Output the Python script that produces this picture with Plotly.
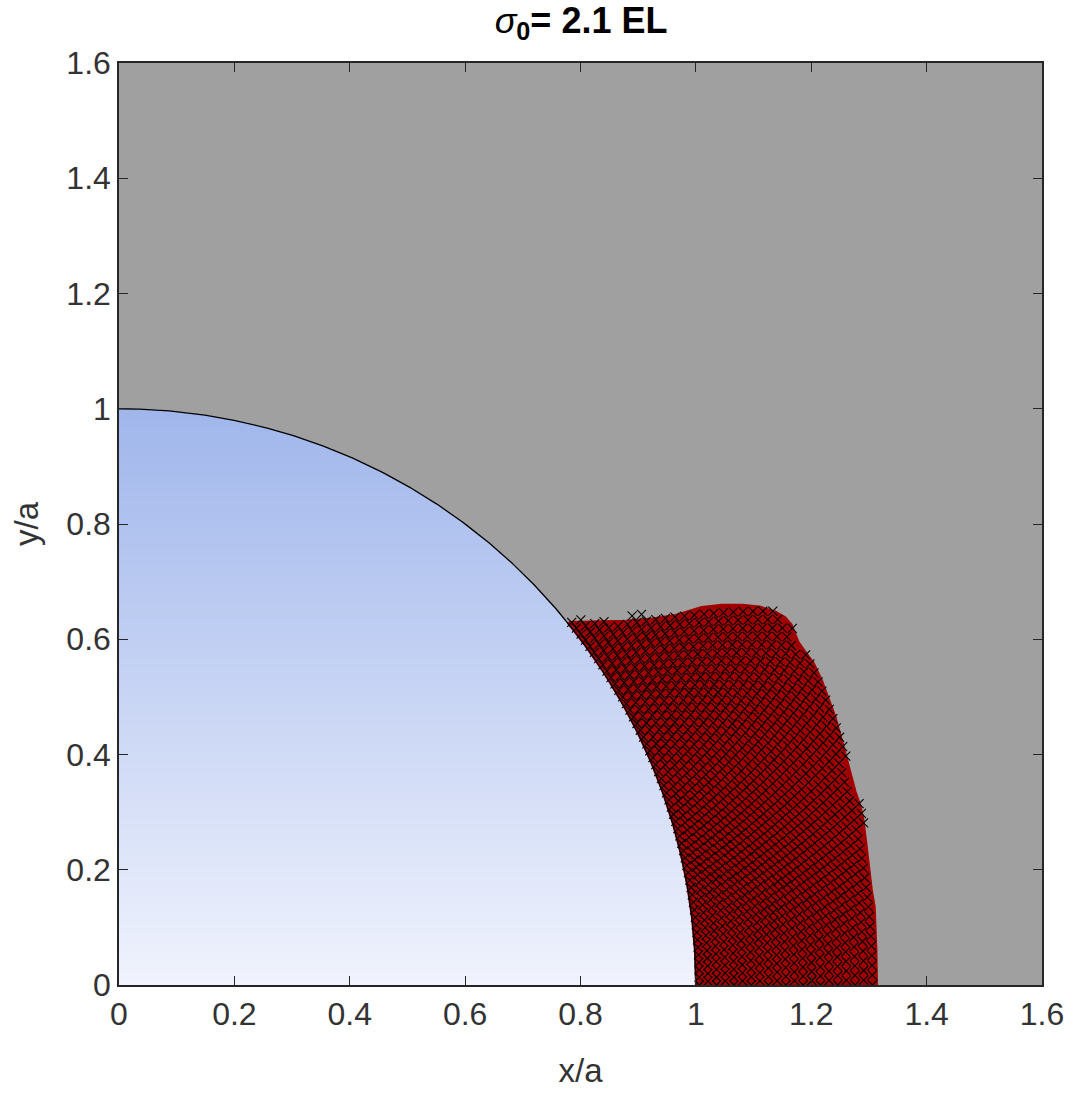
import numpy as np
import plotly.graph_objects as go

# ---- data ----
tick_vals = [0, 0.2, 0.4, 0.6, 0.8, 1.0, 1.2, 1.4, 1.6]
tick_text = ["0", "0.2", "0.4", "0.6", "0.8", "1", "1.2", "1.4", "1.6"]

# outer boundary of the plastic (red) zone, from the top-left point on the hole edge
# to the point on the x-axis
zone_x = [0.780, 0.830, 0.879, 0.925, 0.965, 1.010, 1.045, 1.080, 1.110, 1.138, 1.155,
          1.166, 1.178, 1.192, 1.204, 1.218, 1.230, 1.242, 1.253, 1.262, 1.270, 1.277,
          1.284, 1.290, 1.295, 1.299, 1.305, 1.310, 1.313, 1.314]
zone_y = [0.630, 0.631, 0.632, 0.636, 0.642, 0.656, 0.660, 0.660, 0.657, 0.648, 0.638,
          0.625, 0.595, 0.575, 0.559, 0.530, 0.497, 0.465, 0.425, 0.392, 0.361, 0.335,
          0.315, 0.290, 0.250, 0.212, 0.165, 0.135, 0.060, 0.000]
marker_top_y = 0.645      # plastic-node markers reach slightly above the red zone near the hole

# mesh of nodes (polar, around the hole)
mesh_dr = 0.0150
mesh_dtheta = 0.0130

title_html = "<i>σ</i><sub><b>0</b></sub><b>= 2.1 EL</b>"

# ---- geometry helpers ----
theta_arc = np.linspace(0, np.pi / 2, 400)
circ_x = np.cos(theta_arc)
circ_y = np.sin(theta_arc)

theta_top = np.arctan2(zone_y[0], zone_x[0])
th_in = np.linspace(0, theta_top, 120)
poly_x = list(zone_x) + list(np.cos(th_in))
poly_y = list(zone_y) + list(np.sin(th_in))


def inside(px, py, vx, vy):
    vx = np.asarray(vx); vy = np.asarray(vy)
    n = len(vx)
    res = np.zeros(px.shape, dtype=bool)
    j = n - 1
    for i in range(n):
        xi, yi, xj, yj = vx[i], vy[i], vx[j], vy[j]
        cond = ((yi > py) != (yj > py))
        xint = (xj - xi) * (py - yi) / (yj - yi + 1e-12) + xi
        res ^= cond & (px < xint)
        j = i
    return res


# mesh nodes
rs = np.arange(1.006, 1.34, mesh_dr)
mx, my = [], []
for k, r in enumerate(rs):
    off = 0.5 * mesh_dtheta if k % 2 else 0.0
    th = np.arange(off, np.pi / 2, mesh_dtheta)
    mx.append(r * np.cos(th)); my.append(r * np.sin(th))
mx = np.concatenate(mx); my = np.concatenate(my)
inz = inside(mx, my, poly_x, poly_y)
near_top = (my <= marker_top_y) & (mx < 0.98) & (my > 0.632)
sel = inz | (near_top & (np.arange(len(mx)) % 2 == 0))
mx, my = mx[sel], my[sel]

# gradient fill of the hole
gx = np.linspace(0, 1, 401)
gy = np.linspace(0, 1, 401)
GX, GY = np.meshgrid(gx, gy)
Z = np.where(GX**2 + GY**2 <= 1.0, GY, np.nan)

fig = go.Figure()
fig.add_trace(go.Heatmap(x=gx, y=gy, z=Z, showscale=False, hoverinfo="skip",
                         zmin=0, zmax=1,
                         colorscale=[[0, "rgb(240,243,253)"], [1, "rgb(160,182,235)"]]))
fig.add_trace(go.Scatter(x=poly_x, y=poly_y, fill="toself", mode="lines",
                         fillcolor="#A00000", line=dict(color="#A00000", width=2),
                         hoverinfo="skip", showlegend=False))
fig.add_trace(go.Scatter(x=mx, y=my, mode="markers", showlegend=False,
                         marker=dict(symbol="x-thin", size=9, color="black",
                                     line=dict(color="black", width=1.1))))
fig.add_trace(go.Scatter(x=circ_x, y=circ_y, mode="lines", showlegend=False,
                         line=dict(color="black", width=1.3), hoverinfo="skip"))

axis_common = dict(range=[0, 1.6], tickvals=tick_vals, ticktext=tick_text,
                   showgrid=False, zeroline=False, showline=True, mirror="ticks",
                   linecolor="#262626", linewidth=1.5, ticks="inside", ticklen=9,
                   tickcolor="#262626", tickwidth=1.2,
                   tickfont=dict(family="Liberation Sans, Arial", size=32, color="#333333"),
                   title_font=dict(family="Liberation Sans, Arial", size=33, color="#333333"))

fig.update_layout(
    width=1076, height=1097,
    margin=dict(l=119, r=32, t=63, b=112),
    paper_bgcolor="white", plot_bgcolor="#A0A0A0",
    title=dict(text=title_html, x=0.54, xanchor="center", y=0.993, yanchor="top",
               font=dict(family="Liberation Sans, Arial", size=36, color="black")),
    xaxis=dict(axis_common, title=dict(text="x/a", standoff=28)),
    yaxis=dict(axis_common, title=dict(text="y/a", standoff=18)),
    showlegend=False,
)

fig.write_html("out.html")
